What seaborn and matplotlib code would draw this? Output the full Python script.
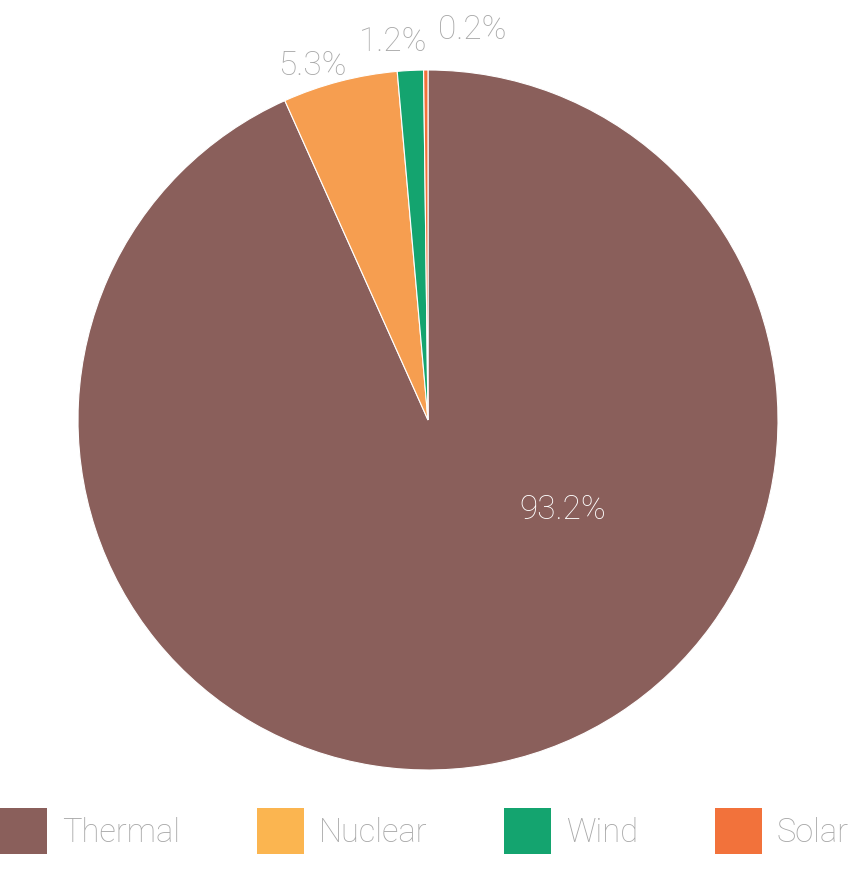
import matplotlib
matplotlib.use("Agg")
import matplotlib.pyplot as plt
from matplotlib.patches import Patch
import seaborn as sns

# datos
fuentes = ["Thermal", "Nuclear", "Wind", "Solar"]
porcentajes = [93.2, 5.3, 1.2, 0.2]
colores_pie = ["#8a5f5b", "#f69e50", "#14a46f", "#f2723b"]
colores_leyenda = ["#8a5f5b", "#fbb550", "#14a46f", "#f2723b"]

sns.set_theme(style="white")
plt.rcParams["font.family"] = ["Roboto", "DejaVu Sans"]

fig = plt.figure(figsize=(8.57, 8.74), dpi=100)
W, H = 857, 874
cx, cy, r = 428, 420, 350
ax = fig.add_axes([(cx - r) / W, (H - cy - r) / H, 2 * r / W, 2 * r / H])

wedges, _ = ax.pie(porcentajes, colors=colores_pie, startangle=90, counterclock=False,
                   radius=1, wedgeprops=dict(linewidth=0.8, edgecolor="white"))
ax.set_xlim(-1, 1)
ax.set_ylim(-1, 1)
ax.axis("off")

# etiquetas (posiciones en unidades del radio)
pos_etiquetas = [(0.386, -0.257), (-0.331, 1.011), (-0.10, 1.08), (0.126, 1.114)]
for i, (val, (x, y)) in enumerate(zip(porcentajes, pos_etiquetas)):
    color = "white" if i == 0 else "#a8a8a8"
    ax.text(x, y, f"{val}%", ha="center", va="center", fontsize=24,
            color=color, fontweight="light", clip_on=False)

handles = [Patch(facecolor=c, edgecolor="none") for c in colores_leyenda]
fig.legend(handles, fuentes, loc="center left", bbox_to_anchor=(0, 1 - 831 / H),
           ncol=4, frameon=False, borderpad=0, borderaxespad=0,
           handlelength=1.44, handleheight=1.8, handletextpad=0.46,
           columnspacing=2.35, labelcolor="#a8a8a8", prop={"weight": "light", "size": 23.5})

fig.savefig("out.png", dpi=100)
